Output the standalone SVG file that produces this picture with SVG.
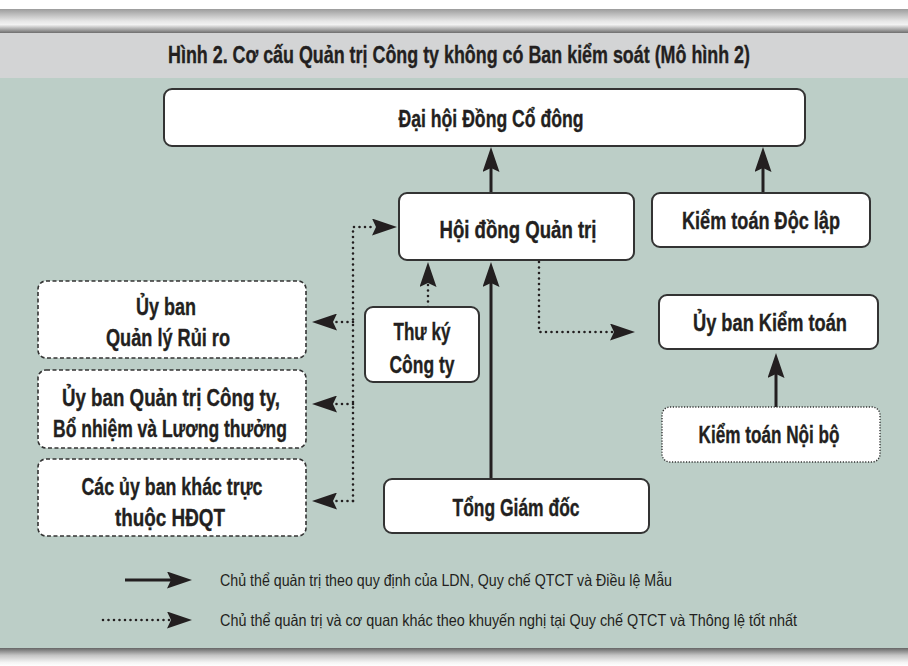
<svg xmlns="http://www.w3.org/2000/svg" width="908" height="666" viewBox="0 0 908 666">
<defs>
<linearGradient id="topbar" x1="0" y1="0" x2="0" y2="1">
<stop offset="0" stop-color="#9c9c9c"/>
<stop offset="0.5" stop-color="#e6e6e6"/>
<stop offset="0.65" stop-color="#f2f2f2"/>
<stop offset="1" stop-color="#6e6e6e"/>
</linearGradient>
<linearGradient id="botbar" x1="0" y1="0" x2="0" y2="1">
<stop offset="0" stop-color="#666"/>
<stop offset="0.4" stop-color="#c4c4c4"/>
<stop offset="0.8" stop-color="#f4f4f4"/>
<stop offset="1" stop-color="#fff"/>
</linearGradient>
<marker id="ah" viewBox="0 0 25 17" markerWidth="25" markerHeight="17" refX="4" refY="8.5" orient="auto" markerUnits="userSpaceOnUse">
<path d="M0,0 L25,8.5 L0,17 L4,8.5 Z" fill="#231f20"/>
</marker>
</defs>
<style>
.box{fill:#fff;stroke:#333;stroke-width:2}
.dash{fill:#fff;stroke:#333;stroke-width:1.6;stroke-dasharray:4 2.5}
.dot{fill:#fff;stroke:#333;stroke-width:1.4;stroke-dasharray:1.2 1.6}
.t{font-family:"Liberation Sans",Arial,sans-serif;font-weight:bold;font-size:23.5px;fill:#231f20;stroke:#231f20;stroke-width:0.35;text-anchor:middle}
.lg{font-family:"Liberation Sans",Arial,sans-serif;font-size:16.5px;fill:#231f20}
.sl{fill:none;stroke:#231f20;stroke-width:3;marker-end:url(#ah)}
.dl{fill:none;stroke:#231f20;stroke-width:2.6;stroke-dasharray:0 5.5;stroke-linecap:round;marker-end:url(#ah)}
</style>
<rect x="0" y="0" width="908" height="666" fill="#fff"/>
<rect x="0" y="9" width="908" height="24" fill="url(#topbar)"/>
<rect x="0" y="33" width="908" height="45" fill="#d3d4d5"/>
<rect x="0" y="78" width="908" height="570" fill="#bccec7"/>
<rect x="0" y="648" width="908" height="18" fill="url(#botbar)"/>
<text class="t" x="459" y="63" font-size="23" textLength="582" lengthAdjust="spacingAndGlyphs">Hình 2. Cơ cấu Quản trị Công ty không có Ban kiểm soát (Mô hình 2)</text>

<g id="connectors">
<path class="sl" d="M491,193 V168"/>
<path class="sl" d="M763,193 V168"/>
<path class="sl" d="M491,479 V283"/>
<path class="dl" d="M428,307 V283"/>
<path class="dl" d="M353,501 V227 H376"/>
<path class="dl" d="M353,322 H333"/>
<path class="dl" d="M353,404 H333"/>
<path class="dl" d="M353,501 H333"/>
<path class="dl" d="M539,262 V332 H614"/>
<path class="sl" d="M776,407 V374"/>
</g>

<g id="dhdcd">
<rect class="box" x="164" y="89" width="641" height="57" rx="8"/>
<text class="t" x="491" y="127" textLength="185" lengthAdjust="spacingAndGlyphs">Đại hội Đồng Cổ đông</text>
</g>
<g id="hdqt">
<rect class="box" x="399" y="193" width="235" height="67" rx="8"/>
<text class="t" x="518" y="238" textLength="157" lengthAdjust="spacingAndGlyphs">Hội đồng Quản trị</text>
</g>
<g id="ktdl">
<rect class="box" x="652" y="193" width="218" height="54" rx="8"/>
<text class="t" x="761" y="229" textLength="158" lengthAdjust="spacingAndGlyphs">Kiểm toán Độc lập</text>
</g>
<g id="thuky">
<rect class="box" x="365" y="307" width="114" height="75" rx="8"/>
<text class="t" x="422" y="340" textLength="57" lengthAdjust="spacingAndGlyphs">Thư ký</text>
<text class="t" x="422" y="373" textLength="65" lengthAdjust="spacingAndGlyphs">Công ty</text>
</g>
<g id="ubqlrr">
<rect class="dash" x="38" y="281" width="268" height="77" rx="8"/>
<text class="t" x="166" y="315" textLength="60" lengthAdjust="spacingAndGlyphs">Ủy ban</text>
<text class="t" x="168" y="346" textLength="124" lengthAdjust="spacingAndGlyphs">Quản lý Rủi ro</text>
</g>
<g id="ubqtct">
<rect class="dash" x="38" y="370" width="268" height="78" rx="8"/>
<text class="t" x="171" y="406" textLength="218" lengthAdjust="spacingAndGlyphs">Ủy ban Quản trị Công ty,</text>
<text class="t" x="170" y="437" textLength="234" lengthAdjust="spacingAndGlyphs">Bổ nhiệm và Lương thưởng</text>
</g>
<g id="ubkhac">
<rect class="dash" x="38" y="459" width="268" height="77" rx="8"/>
<text class="t" x="172" y="495" textLength="181" lengthAdjust="spacingAndGlyphs">Các ủy ban khác trực</text>
<text class="t" x="170" y="526" textLength="110" lengthAdjust="spacingAndGlyphs">thuộc HĐQT</text>
</g>
<g id="tgd">
<rect class="box" x="384" y="479" width="265" height="54" rx="8"/>
<text class="t" x="516" y="516" textLength="127" lengthAdjust="spacingAndGlyphs">Tổng Giám đốc</text>
</g>
<g id="ubkt">
<rect class="box" x="659" y="295" width="219" height="54" rx="8"/>
<text class="t" x="770" y="331" textLength="154" lengthAdjust="spacingAndGlyphs">Ủy ban Kiểm toán</text>
</g>
<g id="ktnb">
<rect class="dot" x="662" y="407" width="218" height="55" rx="8"/>
<text class="t" x="769" y="443" textLength="141" lengthAdjust="spacingAndGlyphs">Kiểm toán Nội bộ</text>
</g>

<g id="legend">
<path class="sl" d="M125,580 H171"/>
<path class="dl" d="M103,620 H171"/>
<text class="lg" x="220" y="586" textLength="452" lengthAdjust="spacingAndGlyphs">Chủ thể quản trị theo quy định của LDN, Quy chế QTCT và Điều lệ Mẫu</text>
<text class="lg" x="220" y="626" textLength="577" lengthAdjust="spacingAndGlyphs">Chủ thể quản trị và cơ quan khác theo khuyến nghị tại Quy chế QTCT và Thông lệ tốt nhất</text>
</g>
</svg>
